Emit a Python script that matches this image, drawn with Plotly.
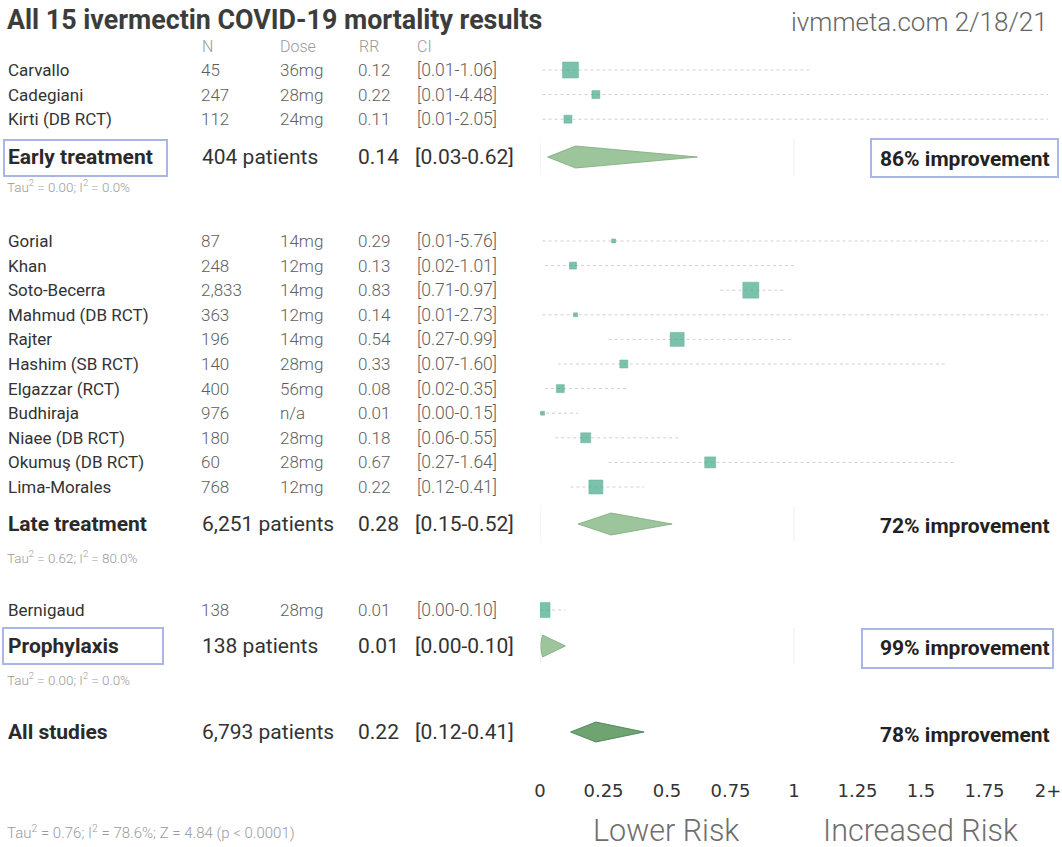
import plotly.graph_objects as go

W, H = 1062, 847

# ---------------- data ----------------
early_names = ["Carvallo", "Cadegiani", "Kirti (DB RCT)"]
early_n = ["45", "247", "112"]
early_dose = ["36mg", "28mg", "24mg"]
early_rr = [0.12, 0.22, 0.11]
early_lo = [0.01, 0.01, 0.01]
early_hi = [1.06, 4.48, 2.05]
early_w = [16, 8, 8]

late_names = ["Gorial", "Khan", "Soto-Becerra", "Mahmud (DB RCT)", "Rajter", "Hashim (SB RCT)",
              "Elgazzar (RCT)", "Budhiraja", "Niaee (DB RCT)", "Okumuş (DB RCT)", "Lima-Morales"]
late_n = ["87", "248", "2,833", "363", "196", "140", "400", "976", "180", "60", "768"]
late_dose = ["14mg", "12mg", "14mg", "12mg", "14mg", "28mg", "56mg", "n/a", "28mg", "28mg", "12mg"]
late_rr = [0.29, 0.13, 0.83, 0.14, 0.54, 0.33, 0.08, 0.01, 0.18, 0.67, 0.22]
late_lo = [0.01, 0.02, 0.71, 0.01, 0.27, 0.07, 0.02, 0.00, 0.06, 0.27, 0.12]
late_hi = [5.76, 1.01, 0.97, 2.73, 0.99, 1.60, 0.35, 0.15, 0.55, 1.64, 0.41]
late_w = [4, 7, 16, 4, 14, 8, 8, 4, 10, 11, 14]

proph_names = ["Bernigaud"]
proph_n = ["138"]
proph_dose = ["28mg"]
proph_rr = [0.01]
proph_lo = [0.00]
proph_hi = [0.10]
proph_w = [15]

group_labels = ["Early treatment", "Late treatment", "Prophylaxis", "All studies"]
group_patients = ["404 patients", "6,251 patients", "138 patients", "6,793 patients"]
group_rr = [0.14, 0.28, 0.01, 0.22]
group_lo = [0.03, 0.15, 0.00, 0.12]
group_hi = [0.62, 0.52, 0.10, 0.41]
group_improve = ["86% improvement", "72% improvement", "99% improvement", "78% improvement"]
group_tau = ["Tau<sup>2</sup> = 0.00; I<sup>2</sup> = 0.0%",
             "Tau<sup>2</sup> = 0.62; I<sup>2</sup> = 80.0%",
             "Tau<sup>2</sup> = 0.00; I<sup>2</sup> = 0.0%",
             "Tau<sup>2</sup> = 0.76; I<sup>2</sup> = 78.6%; Z = 4.84 (p < 0.0001)"]

tick_vals = [0, 0.25, 0.5, 0.75, 1, 1.25, 1.5, 1.75, 2]
tick_text = ["0", "0.25", "0.5", "0.75", "1", "1.25", "1.5", "1.75", "2+"]

title = "All 15 ivermectin COVID-19 mortality results"
source = "ivmmeta.com 2/18/21"

# ---------------- layout helpers ----------------
ROW = 24.6
X_MAX = 2.03
groups = [
    dict(names=early_names, n=early_n, dose=early_dose, rr=early_rr, lo=early_lo, hi=early_hi, w=early_w,
         start=70, sum_y=157, tau_y=186),
    dict(names=late_names, n=late_n, dose=late_dose, rr=late_rr, lo=late_lo, hi=late_hi, w=late_w,
         start=241, sum_y=524, tau_y=557),
    dict(names=proph_names, n=proph_n, dose=proph_dose, rr=proph_rr, lo=proph_lo, hi=proph_hi, w=proph_w,
         start=610, sum_y=646, tau_y=679),
]
all_y = 732

def px(x):
    return x / W

fig = go.Figure()
ann = []
shapes = []

FONT = "Roboto"
name_col = "#333333"
val_col = "#5e5e5e"

def text(x, y, s, size, color, weight=400, xanchor="left", family=FONT):
    ann.append(dict(x=px(x), xref="paper", y=y, yref="y", text=s, showarrow=False,
                    xanchor=xanchor, yanchor="middle", borderpad=0, borderwidth=0,
                    font=dict(family=family, size=size, color=color, weight=weight)))

# title
text(7, 20, title, 26.8, "#3c3c3c", weight=700)
text(1048, 22, source, 26, "#666666", weight=300, xanchor="right")
# header
for x, s in [(202, "N"), (280, "Dose"), (359, "RR"), (417, "CI")]:
    text(x, 46, s, 16, "#9a9a9a", weight=300)

sq_x, sq_y, sq_s = [], [], []
for gi, g in enumerate(groups):
    for i, nm in enumerate(g["names"]):
        y = g["start"] + i * ROW
        text(8, y, nm, 17, name_col)
        text(201, y, g["n"][i], 17, val_col, weight=300)
        text(280, y, g["dose"][i], 17, val_col, weight=300)
        text(358, y, f"{g['rr'][i]:.2f}", 17, val_col, weight=300)
        text(417, y, f"[{g['lo'][i]:.2f}-{g['hi'][i]:.2f}]", 17.5, val_col, weight=300)
        fig.add_trace(go.Scatter(x=[g["lo"][i], min(g["hi"][i], X_MAX)], y=[y, y], mode="lines",
                                 line=dict(color="#d0d0d0", width=1, dash="dot"),
                                 hoverinfo="skip", showlegend=False))
        sq_x.append(g["rr"][i]); sq_y.append(y); sq_s.append(g["w"][i])

fig.add_trace(go.Scatter(x=sq_x, y=sq_y, mode="markers",
                         marker=dict(symbol="square", size=sq_s, color="#43a98a",
                                     line=dict(color="#2f8f72", width=0.5)),
                         hoverinfo="skip", showlegend=False))

sum_ys = [g["sum_y"] for g in groups] + [all_y]
tau_ys = [g["tau_y"] for g in groups] + [832]
for k in range(4):
    y = sum_ys[k]
    text(8, y, group_labels[k], 21, "#2a2a2a", weight=700)
    text(202, y, group_patients[k], 21, "#333333")
    text(358, y, f"{group_rr[k]:.2f}", 21, "#333333")
    text(415, y, f"[{group_lo[k]:.2f}-{group_hi[k]:.2f}]", 21, "#333333")
    text(1050, y + (3 if k == 3 else 2), group_improve[k], 21, "#222222", weight=700, xanchor="right")
    text(7, tau_ys[k], group_tau[k], 13.4 if k < 3 else 15, "#9a9a9a", weight=300)
    hh = 11 if k < 3 else 10
    fill = "#9cc59b" if k < 3 else "#6fa36f"
    fig.add_trace(go.Scatter(
        x=[group_lo[k], group_rr[k], group_hi[k], group_rr[k], group_lo[k]],
        y=[y, y - hh, y, y + hh, y], mode="lines", fill="toself", fillcolor=fill,
        line=dict(color="#7ea87d" if k < 3 else "#3f7a50", width=0.8),
        hoverinfo="skip", showlegend=False))
    if k < 3:
        for xv in (0, 1):
            shapes.append(dict(type="line", xref="x", yref="y", x0=xv, x1=xv, y0=y - 18, y1=y + 18,
                               line=dict(color="#eeeeee", width=1)))

box_col = "#a9b6e6"
for (x0, x1, y0, y1) in [(4, 167, 140, 176), (3, 163, 628, 664), (871, 1058, 139, 177), (862, 1053, 629, 668)]:
    shapes.append(dict(type="rect", xref="paper", yref="y", x0=px(x0), x1=px(x1), y0=y0, y1=y1,
                       line=dict(color=box_col, width=2), fillcolor="rgba(0,0,0,0)"))

text(666, 830, "Lower Risk", 30.5, "#6e6e6e", weight=300, xanchor="center")
text(920, 830, "Increased Risk", 30.5, "#6e6e6e", weight=300, xanchor="center")

fig.update_layout(
    width=W, height=H, autosize=False,
    margin=dict(l=0, r=0, t=0, b=0, pad=0, autoexpand=False),
    paper_bgcolor="white", plot_bgcolor="white",
    annotations=ann, shapes=shapes, showlegend=False,
    xaxis=dict(domain=[540 / W, 1048 / W], range=[0, 2], autorange=False, anchor="free",
               position=1 - 778 / H, automargin=False,
               tickvals=tick_vals, ticktext=tick_text, showgrid=False, zeroline=False,
               showline=False, ticks="", tickfont=dict(family="DejaVu Sans", size=18, color="#333333"),
               fixedrange=True),
    yaxis=dict(domain=[0, 1], range=[H, 0], autorange=False, visible=False, fixedrange=True,
               automargin=False),
)

fig.write_html("out.html",
               config=dict(responsive=False, displayModeBar=False, staticPlot=True),
               post_script="document.body.style.margin='0';document.body.style.overflow='hidden';")
